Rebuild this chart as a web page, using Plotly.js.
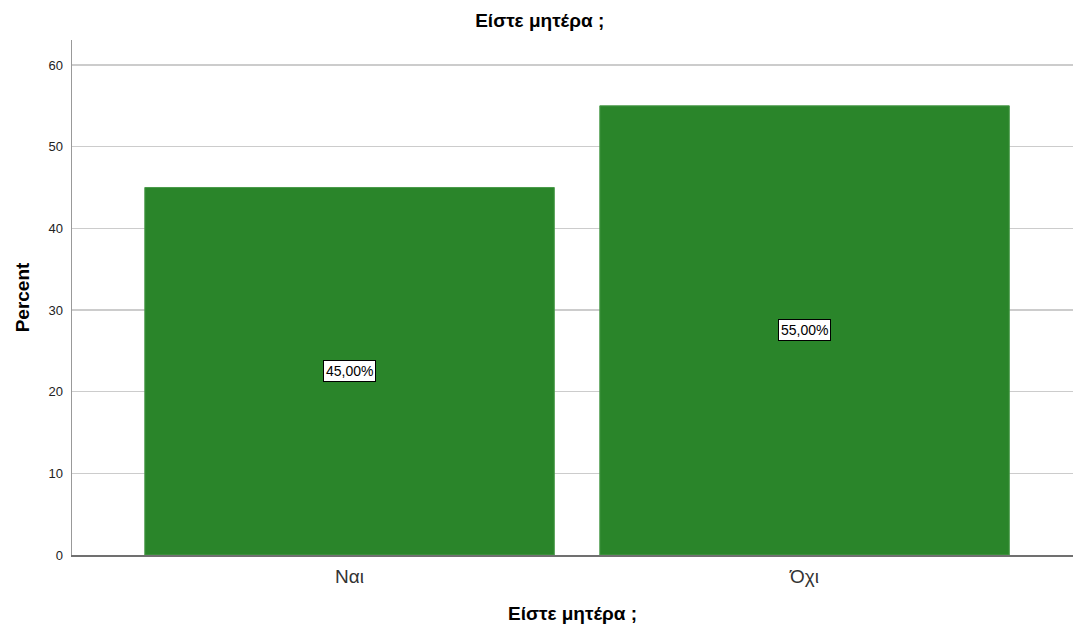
<!DOCTYPE html>
<html>
<head>
<meta charset="utf-8">
<script src="https://cdn.plot.ly/plotly-3.0.1.min.js"></script>
<style>html,body{margin:0;padding:0;background:#fff;}#chart{width:1073px;height:630px;}</style>
</head>
<body>
<div id="chart"></div>
<script>
// Answers and their share of respondents (percent)
const categories = ['Ναι', 'Όχι'];
const percents = [45.00, 55.00];
const yTicks = [0, 10, 20, 30, 40, 50, 60];

const barColor = '#2a852a';
const sans = 'Liberation Sans, Arial, sans-serif';
const fmt = v => v.toFixed(2).replace('.', ',') + '%';

const trace = {
  type: 'bar',
  x: categories,
  y: percents,
  width: 0.9,
  marker: { color: barColor, line: { color: '#4a9a4a', width: 1 } },
  hoverinfo: 'skip'
};

// Value labels boxed at the middle of each bar
const annotations = categories.map((c, i) => ({
  x: c, y: percents[i] / 2, xref: 'x', yref: 'y',
  text: fmt(percents[i]), showarrow: false,
  font: { family: sans, size: 14, color: '#000' },
  bgcolor: '#ffffff', bordercolor: '#000000', borderwidth: 1, borderpad: 2
}));

const layout = {
  width: 1073, height: 630,
  margin: { l: 72, r: 0, t: 40, b: 75 },
  paper_bgcolor: '#ffffff', plot_bgcolor: '#ffffff',
  showlegend: false,
  title: {
    text: '<b>Είστε μητέρα ;</b>',
    font: { family: sans, size: 19, color: '#000' },
    x: 0.503, xref: 'container', xanchor: 'center',
    y: 22, yref: 'container', yanchor: 'middle'
  },
  xaxis: {
    type: 'category',
    range: [-0.61, 1.59],
    showgrid: false,
    showline: true, linecolor: '#707070', linewidth: 1.5,
    ticks: 'outside', ticklen: 4, tickcolor: 'rgba(0,0,0,0)',
    tickfont: { family: sans, size: 19, color: '#333' },
    title: {
      text: '<b>Είστε μητέρα ;</b>', standoff: 20,
      font: { family: sans, size: 19, color: '#000' }
    },
    fixedrange: true
  },
  yaxis: {
    range: [0, 63.06],
    tickvals: yTicks,
    ticktext: yTicks.map(String),
    showgrid: true, gridcolor: '#cccccc', gridwidth: 1.6,
    zeroline: false,
    showline: true, linecolor: '#999999', linewidth: 1.5,
    ticks: 'outside', ticklen: 5, tickcolor: 'rgba(0,0,0,0)',
    tickfont: { family: sans, size: 13, color: '#222' },
    title: {
      text: '<b>Percent</b>', standoff: 14,
      font: { family: sans, size: 19, color: '#000' }
    },
    fixedrange: true
  },
  annotations: annotations,
  bargap: 0.1
};

Plotly.newPlot('chart', [trace], layout, { displayModeBar: false, staticPlot: true });
</script>
</body>
</html>
